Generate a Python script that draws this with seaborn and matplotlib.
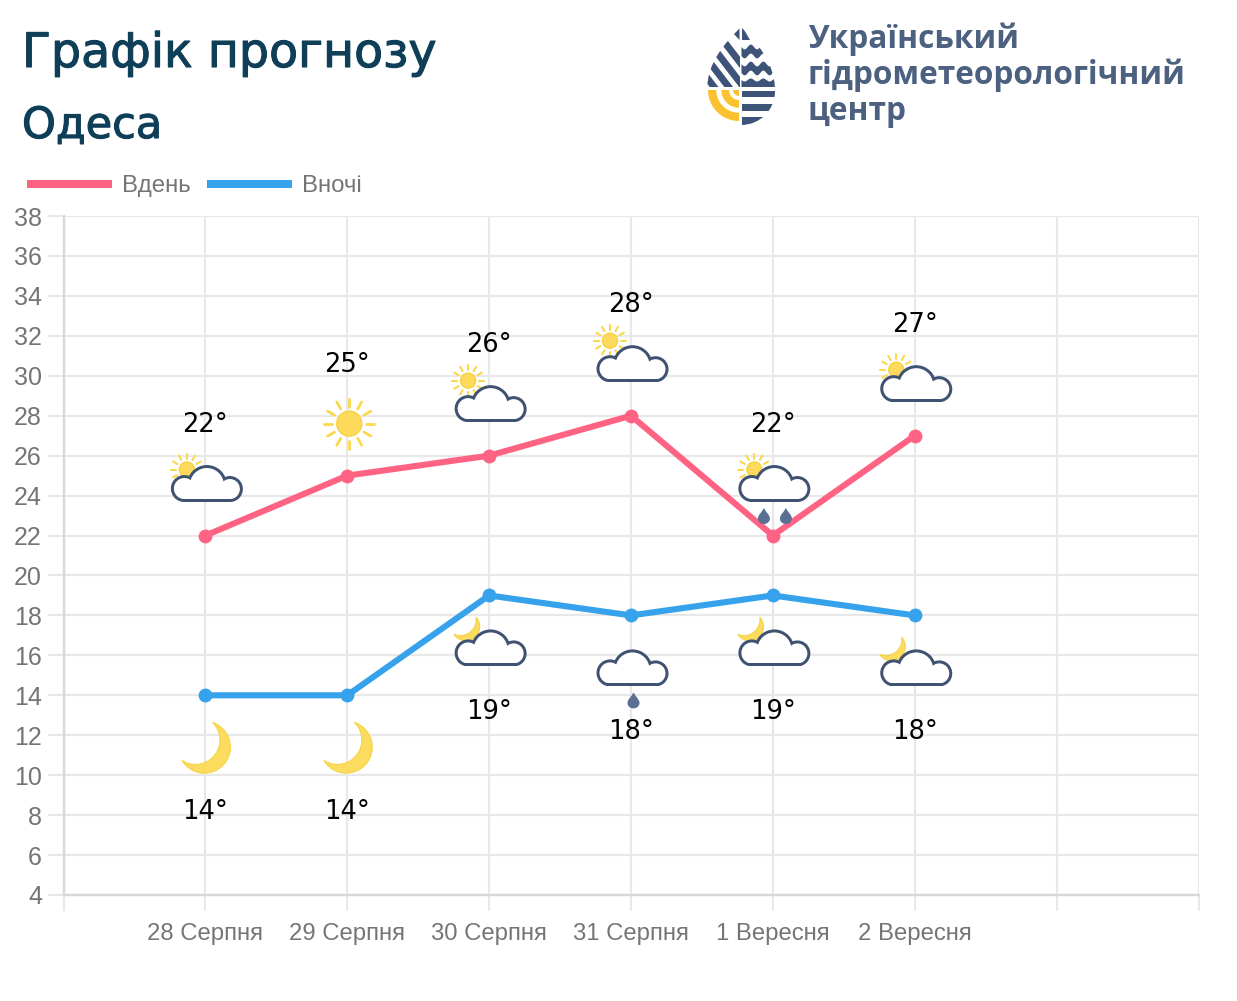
import numpy as np
import pandas as pd
import seaborn as sns
import matplotlib.pyplot as plt
import matplotlib.patheffects as pe
from matplotlib.lines import Line2D
from matplotlib.patches import Circle, PathPatch, Polygon, Rectangle
from matplotlib.path import Path

dates = ["28 Серпня", "29 Серпня", "30 Серпня", "31 Серпня", "1 Вересня", "2 Вересня"]
day_temp = [22, 25, 26, 28, 22, 27]
night_temp = [14, 14, 19, 18, 19, 18]
day_icons = ["sun_cloud", "sun", "sun_cloud_high", "sun_cloud_high", "sun_rain2", "sun_cloud"]
night_icons = ["moon", "moon", "moon_cloud", "rain1", "moon_cloud", "moon_cloud"]
y_ticks = list(range(4, 40, 2))

PINK = "#ff6384"
BLUE = "#36a2eb"
GRID = "#e8e8e8"
GREY = "#757575"
NAVY = "#3f5272"
YELLOW = "#fbd84e"
DROP = "#5a7093"
LOGO_NAVY = "#3e5378"
LOGO_YELLOW = "#f9c22e"

sns.set_theme(style="white")
plt.rcParams["font.family"] = ["Liberation Sans", "DejaVu Sans"]

fig = plt.figure(figsize=(12.37, 10.01), dpi=100)
W, H = 1237, 1001
ax = fig.add_axes([63.5 / W, 1 - 895 / H, (1198.5 - 63.5) / W, (895 - 216) / H])

# таблиця для seaborn
df = pd.DataFrame({
    "pos": list(range(len(dates))) * 2,
    "temp": day_temp + night_temp,
    "series": ["Вдень"] * len(dates) + ["Вночі"] * len(dates),
})
sns.lineplot(data=df, x="pos", y="temp", hue="series", palette=[PINK, BLUE], ax=ax,
             linewidth=4.4, marker="o", markersize=10, markeredgewidth=0, legend=False,
             errorbar=None, zorder=4)

ax.set_xlim(-1, 7)
ax.set_ylim(4, 38)
ax.set_xticks(range(-1, 8))
ax.set_xticklabels([""] + dates + ["", ""])
ax.set_yticks(y_ticks)
ax.set_xlabel("")
ax.set_ylabel("")
ax.grid(True, color=GRID, linewidth=1.6)
ax.set_axisbelow(True)
ax.tick_params(axis="both", bottom=True, left=True, length=11.5, width=1.5, color=GRID,
               labelcolor=GREY, labelsize=17.2)
ax.tick_params(axis="y", pad=4, labelsize=18)
ax.tick_params(axis="x", pad=9)
for side, spine in ax.spines.items():
    spine.set_visible(side in ("left", "bottom"))
    spine.set_color("#d8d8d8")
    spine.set_linewidth(1.7)

handles = [Line2D([], [], color=PINK, lw=5.8, solid_capstyle="butt"),
           Line2D([], [], color=BLUE, lw=5.8, solid_capstyle="butt")]
fig.legend(handles, ["Вдень", "Вночі"], loc="center left", bbox_to_anchor=(5 / W, 1 - 186 / H),
           frameon=False, ncol=2, fontsize=17.3, labelcolor=GREY, handlelength=3.54,
           handletextpad=0.42, columnspacing=0.68)

# шар у пікселях для іконок, логотипа і заголовків
ov = fig.add_axes([0, 0, 1, 1], zorder=5)
ov.set_xlim(0, W)
ov.set_ylim(H, 0)
ov.axis("off")
ov.patch.set_alpha(0)


def to_px(x, y):
    px, py = ax.transData.transform((x, y))
    return px, H - py


def sun(cx, cy, r, inner, outer, lw):
    for a in np.arange(0, 360, 30):
        c, s = np.cos(np.radians(a)), np.sin(np.radians(a))
        ov.plot([cx + inner * c, cx + outer * c], [cy + inner * s, cy + outer * s],
                color=YELLOW, lw=lw, solid_capstyle="round", zorder=2)
    ov.add_patch(Circle((cx, cy), r, fc="#fdd95c", ec="#f8d23e", lw=1, zorder=2))


def arc_pts(p0, p1, bulge, n=40):
    p0, p1 = np.array(p0, float), np.array(p1, float)
    chord = p1 - p0
    length = np.hypot(*chord)
    radius = (length ** 2 / 4 + bulge ** 2) / (2 * abs(bulge))
    normal = np.array([-chord[1], chord[0]]) / length * np.sign(bulge)
    centre = (p0 + p1) / 2 + normal * (abs(bulge) - radius)
    a0 = np.arctan2(*(p0 - centre)[::-1])
    a1 = np.arctan2(*(p1 - centre)[::-1])
    d = (a1 - a0 + np.pi) % (2 * np.pi) - np.pi
    if abs(bulge) > radius:
        d = d - np.sign(d) * 2 * np.pi
    t = np.linspace(a0, a0 + d, n)
    return np.column_stack([centre[0] + radius * np.cos(t), centre[1] + radius * np.sin(t)])


def moon(tip1, tip2, bulge_out, bulge_in):
    outer = arc_pts(tip1, tip2, -bulge_out)
    inner = arc_pts(tip2, tip1, bulge_in)
    ov.add_patch(Polygon(np.vstack([outer, inner]), closed=True, fc="#fbdc5e", ec="#f6d445",
                         lw=0.8, zorder=2))


def cloud(cx, b):
    # cx - центр іконки, b - нижній край хмари, обвід 3 px
    lobes = [(cx - 22.5, b - 13.5, 13.5), (cx, b - 17, 20), (cx + 23, b - 13, 13)]
    for inset, colour, z in [(0, NAVY, 3), (3, "white", 3.1)]:
        floor = b - inset
        keep = Rectangle((cx - 45, b - 50), 90, 50 - inset, transform=ov.transData)
        for x, y, r in lobes:
            c = ov.add_patch(Circle((x, y), r - inset, fc=colour, ec="none", zorder=z))
            c.set_clip_path(keep)
        ov.add_patch(Rectangle((cx - 22.5, b - 13), 45.5, floor - (b - 13), fc=colour, ec="none", zorder=z))


def rain_drop(cx, cy):
    verts = [(cx, cy - 8), (cx + 2, cy - 4), (cx + 6, cy - 1), (cx + 6, cy + 2.5),
             (cx + 6, cy + 6), (cx + 3, cy + 8), (cx, cy + 8),
             (cx - 3, cy + 8), (cx - 6, cy + 6), (cx - 6, cy + 2.5),
             (cx - 6, cy - 1), (cx - 2, cy - 4), (cx, cy - 8)]
    codes = [Path.MOVETO] + [Path.CURVE4] * 12
    ov.add_patch(PathPatch(Path(verts, codes), fc=DROP, ec="none", zorder=3))


def draw_icon(kind, x, y, is_day):
    px, py = to_px(x, y)
    if kind == "sun":
        sun(px + 2, py - 52, 12.5, 17, 25, 2)
    elif kind == "moon":
        moon((px + 7.3, py + 27.2), (px - 23.3, py + 65.2), 35, 22)
    else:
        bottom = py - 33.5 if is_day else py + 71
        if kind == "sun_cloud_high":
            sun(px - 21, bottom - 41.5, 7.5, 11, 16, 1.5)
        elif kind.startswith("sun"):
            sun(px - 18.5, bottom - 32.5, 7.5, 11, 16, 1.5)
        if kind.startswith("moon"):
            moon((px - 13, bottom - 49), (px - 35, bottom - 32), 15, 8)
        cloud(px + 1.5, bottom)
        if kind == "sun_rain2":
            rain_drop(px - 9, bottom + 14)
            rain_drop(px + 13, bottom + 14)
        if kind == "rain1":
            rain_drop(px + 2.5, bottom + 14)


label_font = ["DejaVu Sans"]
for i, (d, n) in enumerate(zip(day_temp, night_temp)):
    draw_icon(day_icons[i], i, d, True)
    draw_icon(night_icons[i], i, n, False)
    px, py = to_px(i, d)
    ov.text(px, py - 111, f"{d}°", ha="center", va="center", fontsize=18.5, color="black",
            family=label_font, zorder=6)
    px, py = to_px(i, n)
    ov.text(px, py + 117, f"{n}°", ha="center", va="center", fontsize=18.5, color="black",
            family=label_font, zorder=6)

# заголовки
bold = [pe.withStroke(linewidth=0.8, foreground="#0f3f58")]
ov.text(22, 67, "Графік прогнозу", fontsize=34.2, color="#0f3f58", family=["DejaVu Sans"],
        ha="left", va="baseline", path_effects=bold)
ov.text(22, 138, "Одеса", fontsize=31, color="#0f3f58", family=["DejaVu Sans"],
        ha="left", va="baseline", path_effects=bold)
for y_txt, txt in [(48, "Український"), (84, "гідрометеорологічний"), (120, "центр")]:
    ov.text(808, y_txt, txt, fontsize=22.8, color="#4c6180", family=["Open Sans"], weight="bold",
            ha="left", va="baseline")

# логотип-крапля
drop_verts = [(741, 27), (757, 43), (775, 62), (775, 91),
              (775, 110), (760, 125), (741, 125),
              (722, 125), (707, 110), (707, 91),
              (707, 62), (725, 43), (741, 27)]
drop_path = Path(drop_verts, [Path.MOVETO] + [Path.CURVE4] * 12)
drop_clip = PathPatch(drop_path, transform=ov.transData, fc="none", ec="none")
ov.add_patch(drop_clip)
logo = []
# ліворуч вгорі - смуги
for mx, my in [(731.7, 51.6), (727, 65.5), (721, 77), (711, 83)]:
    logo.append(ov.plot([mx - 30, mx + 30], [my - 39, my + 39], color=LOGO_NAVY, lw=5,
                        solid_capstyle="butt", zorder=7)[0])
logo.append(ov.add_patch(Polygon([(733.3, 33.3), (739.5, 26), (739.5, 40)], fc=LOGO_NAVY, ec="none", zorder=7)))
# білі маски - смуги не заходять за вісь краплі
logo.append(ov.add_patch(Rectangle((739.5, 20), 40, 110, fc="white", ec="none", zorder=7.1)))
logo.append(ov.add_patch(Rectangle((700, 87), 45, 45, fc="white", ec="none", zorder=7.1)))
# ліворуч внизу - жовті дуги
t = np.radians(np.linspace(90, 180, 40))
for r, w in [(31, 8.3), (17.7, 7.7)]:
    xo, yo = 739 + r * np.cos(t), 90 + r * np.sin(t)
    xi, yi = 739 + (r - w) * np.cos(t), 90 + (r - w) * np.sin(t)
    logo.append(ov.add_patch(Polygon(np.column_stack([np.r_[xo, xi[::-1]], np.r_[yo, yi[::-1]]]),
                                     fc=LOGO_YELLOW, ec="none", zorder=7.2)))
logo.append(ov.add_patch(Polygon(np.column_stack([np.r_[739, 739 + 6 * np.cos(t)], np.r_[90, 90 + 6 * np.sin(t)]]),
                                 fc=LOGO_YELLOW, ec="none", zorder=7.2)))
# праворуч - хвилі і смуги
wave_x = np.linspace(741.5, 777, 60)
for top, bottom in [(47, 56), (64, 73)]:
    wave = 2.4 * np.sin((wave_x - 741.5) / 12.5 * 2 * np.pi)
    logo.append(ov.add_patch(Polygon(np.column_stack([np.r_[wave_x, wave_x[::-1]],
                                                      np.r_[top + wave, (bottom + wave)[::-1]]]),
                                     fc=LOGO_NAVY, ec="none", zorder=7.2)))
wave = 1.5 * np.sin((wave_x - 741.5) / 12.5 * 2 * np.pi)
logo.append(ov.add_patch(Polygon(np.column_stack([np.r_[wave_x, 777, 741.5], np.r_[80 + wave, 87, 87]]),
                                 fc=LOGO_NAVY, ec="none", zorder=7.2)))
logo.append(ov.add_patch(Polygon([(741.5, 26), (741.5, 40), (750, 40)], fc=LOGO_NAVY, ec="none", zorder=7.2)))
for y0, y1 in [(90.7, 97.3), (104, 111), (117, 126)]:
    logo.append(ov.add_patch(Rectangle((741.5, y0), 36, y1 - y0, fc=LOGO_NAVY, ec="none", zorder=7.2)))
for art in logo:
    art.set_clip_path(drop_clip)

fig.savefig("out.png", dpi=100, facecolor="white")
